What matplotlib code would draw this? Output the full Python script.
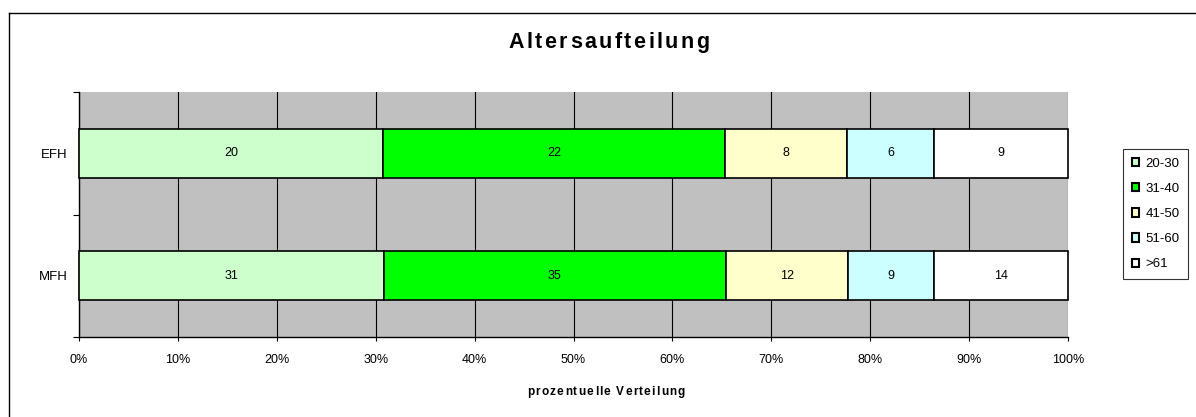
import matplotlib.pyplot as plt
import numpy as np
from matplotlib.font_manager import FontProperties
from matplotlib.lines import Line2D
from matplotlib.ticker import PercentFormatter, FixedLocator, NullFormatter

plt.rcParams["font.family"] = ["Liberation Sans", "DejaVu Sans"]

W, H = 1196, 417

categories = ["EFH", "MFH"]
age_groups = ["20-30", "31-40", "41-50", "51-60", ">61"]
efh_values = [19.7, 22.2, 7.9, 5.6, 8.7]
mfh_values = [31.1, 35.0, 12.4, 8.8, 13.7]
colors = ["#CCFFCC", "#00FF00", "#FFFFCC", "#CCFFFF", "#FFFFFF"]

values = np.array([efh_values, mfh_values], dtype=float).T
shares = values / values.sum(axis=0) * 100


def tracked_text(fig, x_px, y_px, s, size, target_width, weight="normal"):
    # draw text char by char with extra letter spacing (Excel-like look)
    prop = FontProperties(family="Liberation Sans", weight=weight, size=size)
    renderer = fig.canvas.get_renderer()

    def width(t):
        return renderer.get_text_width_height_descent(t, prop, ismath=False)[0]

    bar = width("|")
    starts = [width(s[:i] + "|") - bar if i else 0.0 for i in range(len(s))]
    natural = width(s)
    track = max(0.0, (target_width - natural) / (len(s) - 1))
    x0 = x_px - (natural + track * (len(s) - 1)) / 2
    for i, c in enumerate(s):
        fig.text((x0 + starts[i] + track * i) / W, 1 - y_px / H, c,
                 fontproperties=prop, ha="left", va="baseline")


fig = plt.figure(figsize=(W / 100, H / 100), dpi=100)
ax = fig.add_axes([79 / W, 1 - 337 / H, (1068 - 79) / W, (337 - 92) / H])
ax.set_facecolor("#C0C0C0")

y = np.arange(len(categories))
left = np.zeros(len(categories))
for group, share, raw, color in zip(age_groups, shares, values, colors):
    ax.barh(y, share, left=left, height=0.4, color=color, edgecolor="black",
            linewidth=1.2, label=group, zorder=3, clip_on=False)
    for yi, l, w, v in zip(y, left, share, raw):
        ax.text(l + w / 2, yi, f"{v:.0f}", ha="center", va="center",
                fontsize=9, zorder=4)
    left = left + share

ax.set_xlim(0, 100)
ax.set_ylim(1.5, -0.5)
ax.xaxis.set_major_locator(FixedLocator(np.arange(0, 101, 10)))
ax.xaxis.set_major_formatter(PercentFormatter(decimals=0))
ax.grid(axis="x", color="black", linewidth=0.8, zorder=1)
ax.set_axisbelow(True)

ax.set_yticks(y)
ax.set_yticklabels(categories, fontsize=9.5)
ax.tick_params(axis="y", length=0, pad=8)
ax.yaxis.set_minor_locator(FixedLocator([-0.5, 0.5, 1.5]))
ax.yaxis.set_minor_formatter(NullFormatter())
ax.tick_params(axis="y", which="minor", length=4, width=0.8, direction="out")
ax.tick_params(axis="x", labelsize=9, length=3, width=0.8, direction="out", pad=9)

for side in ["top", "right"]:
    ax.spines[side].set_visible(False)
ax.spines["left"].set_linewidth(1.0)
ax.spines["bottom"].set_linewidth(1.0)

tracked_text(fig, 609, 48, "Altersaufteilung", 15.5, 201, weight="bold")
tracked_text(fig, 606, 395, "prozentuelle Verteilung", 8.5, 158, weight="bold")

leg = ax.legend(loc="upper left", bbox_to_anchor=(1123 / W, 1 - 149 / H),
                bbox_transform=fig.transFigure, frameon=True, fancybox=False,
                fontsize=9.5, handlelength=0.6, handleheight=0.6,
                handletextpad=0.45, borderpad=0.65, labelspacing=1.0,
                borderaxespad=0)
leg.get_frame().set_edgecolor("black")
leg.get_frame().set_linewidth(0.8)
for handle in leg.legend_handles:
    handle.set_linewidth(1.5)

# outer chart frame (left and top edges visible in the picture)
fig.add_artist(Line2D([8.5 / W, 8.5 / W], [0, 1 - 13 / H], transform=fig.transFigure,
                      color="black", linewidth=1.0))
fig.add_artist(Line2D([8.5 / W, 1], [1 - 13 / H, 1 - 13 / H], transform=fig.transFigure,
                      color="black", linewidth=1.0))

fig.savefig("out.png", dpi=100)
